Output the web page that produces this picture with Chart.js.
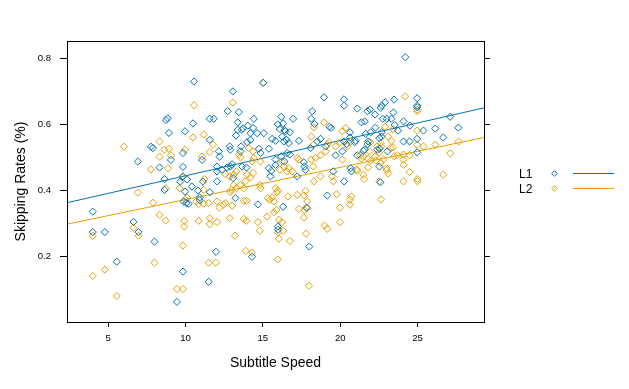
<!DOCTYPE html>
<html><head><meta charset="utf-8">
<script src="https://cdn.jsdelivr.net/npm/chart.js@4/dist/chart.umd.min.js"></script>
<style>html,body{margin:0;padding:0;background:#fff}#wrap{width:629px;height:389px}</style>
</head><body><div id="wrap"><canvas id="c" width="629" height="389"></canvas></div>
<script>
const seriesNames = ["L1", "L2"];
const xTicks = [5, 10, 15, 20, 25];
const yTicks = [0.2, 0.4, 0.6, 0.8];
const xTitle = "Subtitle Speed";
const yTitle = "Skipping Rates (%)";
const xRange = [2.345, 29.29];
const yRange = [0.0, 0.853];

const l1Points = [
[10.55,0.73],[8.74,0.613],[8.85,0.618],[10.49,0.603],[8.93,0.574],[9.97,0.579],
[15.02,0.726],[13.06,0.70],[18.95,0.682],[20.25,0.676],[20.25,0.657],[12.73,0.64],[13.45,0.637],[11.57,0.617],[11.83,0.617],[14.42,0.617],[16.19,0.623],[16.96,0.617],[18.19,0.64],[18.13,0.617],[13.38,0.606],[15.97,0.60],[16.31,0.603],[18.34,0.601],[19.3,0.593],[19.4,0.589],[14.03,0.596],[14.37,0.589],[13.38,0.583],[13.64,0.583],[13.72,0.588],[16.10,0.586],[16.40,0.583],[16.46,0.579],[16.75,0.576],[14.2,0.573],[14.63,0.573],[15.06,0.573],
[24.2,0.804],[23.48,0.675],[24.97,0.679],[24.97,0.656],[24.97,0.652],[22.9,0.667],[22.68,0.657],[22.62,0.65],[21.1,0.648],[21.76,0.64],[21.93,0.645],[22.25,0.63],[23.44,0.636],[21.58,0.609],[21.37,0.606],[22.75,0.617],[23.0,0.617],[23.3,0.617],[24.09,0.609],[24.5,0.596],[23.52,0.598],[23.74,0.581],[25.38,0.581],[26.14,0.587],[27.1,0.623],[27.63,0.59],[22.27,0.59],[21.97,0.576],[21.65,0.571],[22.68,0.576],[20.63,0.576],
[7.77,0.532],[7.9,0.528],[9.84,0.513],[9.06,0.492],[6.92,0.487],[11.07,0.492],[8.33,0.469],[9.84,0.471],[8.65,0.434],[9.84,0.442],[9.66,0.426],[10.1,0.433],[11.13,0.426],[10.42,0.411],[8.65,0.401],[9.97,0.396],[10.81,0.399],[9.88,0.366],[10.05,0.361],[10.2,0.359],[10.92,0.378],[10.92,0.37],[4.01,0.335],[6.64,0.304],
[4.01,0.273],[4.79,0.273],[6.97,0.273],[8.0,0.244],[5.56,0.183],[9.84,0.153],[9.45,0.061],
[11.97,0.213],[11.5,0.122],[14.3,0.198],[15.99,0.28],[18.0,0.229],
[26.66,0.56],[24.97,0.556],[24.09,0.548],[24.48,0.548],[24.97,0.515],[22.66,0.563],[22.53,0.558],[22.4,0.523],[22.55,0.526],[23.05,0.518],[22.53,0.472],[22.6,0.424],[20.67,0.467],[20.72,0.457],[21.1,0.506],[21.5,0.52],[21.58,0.523],[21.8,0.548],[21.76,0.54],[21.0,0.55],[20.93,0.546],[20.63,0.56],
[11.57,0.553],[12.15,0.518],[12.2,0.502],[12.86,0.533],[12.9,0.523],[13.27,0.566],[14.2,0.553],[13.98,0.546],[13.6,0.533],[13.55,0.518],[14.74,0.526],[14.85,0.513],[15.39,0.526],[15.6,0.556],[15.82,0.55],[16.25,0.563],[16.53,0.553],[16.68,0.543],[16.36,0.548],[16.57,0.513],[16.75,0.508],[16.19,0.503],[16.4,0.487],[17.33,0.55],[18.08,0.528],[18.52,0.548],[18.73,0.556],[19.06,0.533],[20.25,0.548],[20.41,0.54],[19.7,0.506],[17.65,0.485],[17.69,0.472],[17.76,0.462],[15.82,0.493],[15.82,0.477],[15.39,0.467],[15.54,0.459],[15.49,0.442],[17.22,0.442],[13.01,0.479],[12.9,0.472],[12.69,0.469],[12.04,0.472],[12.36,0.462],[12.04,0.457],[13.66,0.472],[13.94,0.469],[13.08,0.437],[12.04,0.427],[11.57,0.394],[13.23,0.376],[14.68,0.357],[16.31,0.35],[17.82,0.347],[19.16,0.384],[15.97,0.29],[20.14,0.518],[19.55,0.457],[20.25,0.427]
];

const l2Points = [
[10.55,0.658],[11.18,0.569],
[15.02,0.726],[13.06,0.666],[18.95,0.606],[18.30,0.591],[20.14,0.579],[20.35,0.589],
[24.2,0.685],[24.97,0.645],[24.97,0.64],[22.9,0.593],[23.42,0.585],[24.97,0.581],
[6.02,0.532],[8.33,0.548],[8.63,0.523],[8.93,0.526],[9.97,0.523],[10.49,0.56],[9.06,0.506],[8.33,0.502],[11.07,0.502],[7.77,0.463],[8.87,0.466],[9.77,0.439],[11.22,0.434],[8.74,0.406],[6.92,0.393],[9.62,0.406],[11.18,0.401],[10.1,0.378],[9.99,0.372],[10.7,0.366],[10.85,0.358],[11.18,0.359],[7.9,0.362],[8.33,0.325],[8.72,0.308],[6.64,0.286],[9.92,0.307],[9.92,0.29],[10.85,0.307],
[4.01,0.262],[6.97,0.262],[9.84,0.232],[8.0,0.18],[4.79,0.159],[4.01,0.14],[9.45,0.10],[9.84,0.10],[5.56,0.079],
[13.2,0.262],[11.5,0.18],[11.97,0.18],[13.9,0.216],[14.3,0.21],[14.8,0.277],[15.99,0.272],[16.31,0.277],[16.04,0.253],[16.75,0.246],[15.97,0.19],[17.79,0.268],[17.98,0.11],[19.16,0.283],
[27.65,0.548],[24.97,0.538],[25.38,0.533],[26.14,0.538],[27.11,0.512],[24.09,0.508],[24.09,0.493],[24.09,0.477],[23.48,0.503],[23.7,0.506],[24.48,0.506],[23.1,0.563],[23.3,0.55],[23.42,0.53],[22.62,0.543],[22.66,0.533],[22.79,0.493],[22.62,0.483],[22.27,0.503],[22.3,0.49],[23.0,0.467],[23.0,0.461],[23.1,0.451],[24.48,0.455],[24.09,0.427],[24.99,0.434],[24.99,0.427],[26.66,0.447],[22.53,0.427],[20.72,0.381],[20.63,0.371],[20.63,0.356],[22.64,0.372],[21.5,0.447],[21.54,0.434],[21.8,0.469],[21.06,0.463],[21.1,0.459],[21.28,0.506],[21.5,0.503],[21.37,0.496],[21.8,0.496],[21.97,0.49],[21.89,0.518],[21.93,0.546],[20.67,0.548],[20.46,0.533],[22.4,0.533],[22.5,0.513],[23.26,0.528],
[11.78,0.538],[11.57,0.516],[13.45,0.508],[13.55,0.5],[14.1,0.528],[14.37,0.518],[14.42,0.498],[14.3,0.487],[14.85,0.487],[13.29,0.457],[13.12,0.447],[12.58,0.449],[12.86,0.442],[13.98,0.447],[14.2,0.439],[14.37,0.452],[13.87,0.427],[13.55,0.416],[13.12,0.416],[12.95,0.401],[12.9,0.394],[13.29,0.406],[13.77,0.406],[14.8,0.416],[14.85,0.406],[15.82,0.406],[15.97,0.398],[15.9,0.394],[15.32,0.376],[15.6,0.378],[15.45,0.371],[16.62,0.381],[17.22,0.386],[17.65,0.384],[17.76,0.398],[17.87,0.366],[11.5,0.361],[12.04,0.366],[12.2,0.347],[12.45,0.356],[12.58,0.361],[13.01,0.353],[13.77,0.368],[13.94,0.368],[15.71,0.366],[17.69,0.34],[17.87,0.345],[19.99,0.347],[19.77,0.388],[18.3,0.427],[19.55,0.427],[18.73,0.506],[19.06,0.518],[18.41,0.498],[18.13,0.493],[18.26,0.472],[17.22,0.498],[17.33,0.493],[16.25,0.487],[16.36,0.472],[16.68,0.467],[16.9,0.457],[16.1,0.462],[16.57,0.457],[18.73,0.442],[19.49,0.442],[19.16,0.538],[19.27,0.546],[19.7,0.533],[19.99,0.546],[20.14,0.493],[18.13,0.563],[18.26,0.538],[11.57,0.315],[12.04,0.303],[12.86,0.315],[11.57,0.297],[13.77,0.313],[13.94,0.307],[14.68,0.303],[15.28,0.32],[15.71,0.333],[15.88,0.34],[17.33,0.343],[16.04,0.31],[16.25,0.303],[17.65,0.317],[19.99,0.303],[18.99,0.293]
];

// fitted regression lines: values at the two ends of the x range
const l1Fit = [0.362, 0.650];
const l2Fit = [0.297, 0.560];

const colors = ["#0072B2", "#E69F00"];
const FONT = "'Liberation Sans', Arial, sans-serif";

const toXY = arr => arr.map(p => ({x: p[0], y: p[1]}));
const fitXY = f => [{x: xRange[0], y: f[0]}, {x: xRange[1], y: f[1]}];

const framePlugin = {
  id: 'frame',
  afterDraw(chart) {
    const {ctx, chartArea: a} = chart;
    ctx.save();
    ctx.strokeStyle = '#000';
    ctx.lineWidth = 1;
    ctx.strokeRect(Math.round(a.left) + 0.5, Math.round(a.top) + 0.5, Math.round(a.right - a.left), Math.round(a.bottom - a.top));
    // legend
    const lx = 519, ly0 = 174.5, dy = 15;
    seriesNames.forEach((name, i) => {
      const y = ly0 + i * dy;
      ctx.fillStyle = '#000';
      ctx.font = "12px " + FONT;
      ctx.textBaseline = 'middle';
      ctx.textAlign = 'left';
      ctx.fillText(name, lx, y);
      const my = Math.round(y - 1.5) + 0.5;
      ctx.strokeStyle = colors[i];
      ctx.lineWidth = 1;
      ctx.beginPath();
      const dx = 554.5, r = 2.8;
      ctx.moveTo(dx, my - r); ctx.lineTo(dx + r, my); ctx.lineTo(dx, my + r); ctx.lineTo(dx - r, my); ctx.closePath();
      ctx.stroke();
      ctx.beginPath();
      ctx.moveTo(573, my); ctx.lineTo(614, my);
      ctx.stroke();
    });
    ctx.restore();
  }
};

const scatterDs = (i, pts) => ({
  type: 'scatter', label: seriesNames[i], data: toXY(pts),
  pointStyle: 'rectRot', pointRadius: 3.6, borderColor: colors[i], backgroundColor: 'rgba(0,0,0,0)',
  borderWidth: 1, pointHoverRadius: 3.6
});
const lineDs = (i, f) => ({
  type: 'line', label: seriesNames[i] + ' fit', data: fitXY(f),
  borderColor: colors[i], borderWidth: 1, pointRadius: 0, fill: false, tension: 0
});

new Chart(document.getElementById('c'), {
  data: { datasets: [scatterDs(0, l1Points), scatterDs(1, l2Points), lineDs(0, l1Fit), lineDs(1, l2Fit)] },
  options: {
    responsive: false, animation: false, devicePixelRatio: 1,
    layout: { padding: { top: 41, left: 0, right: 0, bottom: 0 } },
    plugins: { legend: { display: false }, tooltip: { enabled: false } },
    scales: {
      x: {
        type: 'linear', position: 'bottom', min: xRange[0], max: xRange[1],
        afterBuildTicks: s => { s.ticks = xTicks.map(v => ({value: v})); },
        afterFit: s => { s.height = 67; },
        grid: { drawOnChartArea: false, drawTicks: true, tickLength: 5, color: '#000', tickColor: '#000' },
        border: { display: false },
        ticks: { color: '#000', font: { family: FONT, size: 9.6 }, padding: 6, maxRotation: 0 },
        title: { display: true, text: xTitle, color: '#000', font: { family: FONT, size: 14 }, padding: { top: 0, bottom: 17.6 } }
      },
      y: {
        type: 'linear', position: 'left', min: yRange[0], max: yRange[1],
        afterBuildTicks: s => { s.ticks = yTicks.map(v => ({value: v})); },
        afterFit: s => { s.width = 67; },
        grid: { drawOnChartArea: false, drawTicks: true, tickLength: 7, color: '#000', tickColor: '#000' },
        border: { display: false },
        ticks: { color: '#000', font: { family: FONT, size: 9.6 }, padding: 9, callback: v => v.toFixed(1) },
        title: { display: true, text: yTitle, color: '#000', font: { family: FONT, size: 14 }, padding: { top: 13, bottom: 0 } }
      },
      y2: {
        type: 'linear', position: 'right', min: yRange[0], max: yRange[1],
        afterBuildTicks: s => { s.ticks = yTicks.map(v => ({value: v})); },
        afterFit: s => { s.width = 145; },
        grid: { drawOnChartArea: false, drawTicks: true, tickLength: 6, color: '#000', tickColor: '#000' },
        border: { display: false },
        ticks: { display: false }
      }
    }
  },
  plugins: [framePlugin]
});
</script>
</body></html>
